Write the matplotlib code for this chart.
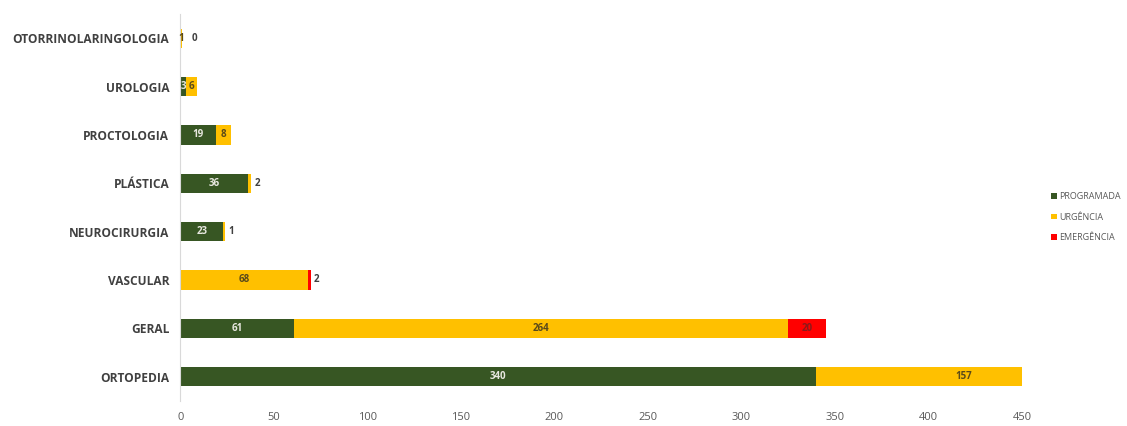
import numpy as np
import matplotlib.pyplot as plt

categorias = ['ORTOPEDIA', 'GERAL', 'VASCULAR', 'NEUROCIRURGIA', 'PLÁSTICA',
              'PROCTOLOGIA', 'UROLOGIA', 'OTORRINOLARINGOLOGIA']
programada = [340, 61, 0, 23, 36, 19, 3, 0]
urgencia = [157, 264, 68, 1, 2, 8, 6, 1]
emergencia = [0, 20, 2, 0, 0, 0, 0, 0]

series = [('PROGRAMADA', programada, '#375623', '#e8e8e0'),
          ('URGÊNCIA', urgencia, '#ffc000', '#5a4a1a'),
          ('EMERGÊNCIA', emergencia, '#ff0000', '#8b1a1a')]

plt.rcParams['font.family'] = ['Open Sans', 'DejaVu Sans']

fig = plt.figure(figsize=(11.27, 4.26), dpi=100)
ax = fig.add_axes([0.16, 0.059, 0.747, 0.908])

y = np.arange(len(categorias))
esquerda = np.zeros(len(categorias))
for nome, vals, cor, cor_txt in series:
    vals = np.array(vals, dtype=float)
    ax.barh(y, vals, left=esquerda, height=0.4, color=cor, label=nome)
    for i, v in enumerate(vals):
        fim = esquerda[i] + v
        if nome == 'EMERGÊNCIA' and v == 0:
            if i == len(categorias) - 1:
                ax.text(fim + 5, y[i], '0', va='center', ha='left', fontsize=7,
                        color='#404040', fontweight='bold')
            continue
        if v == 0:
            continue
        if v <= 2 and esquerda[i] > 0:
            ax.text(fim + 1.5, y[i], f'{int(v)}', va='center', ha='left',
                    fontsize=7, color='#404040', fontweight='bold')
        else:
            ax.text(esquerda[i] + v / 2, y[i], f'{int(v)}', va='center',
                    ha='center', fontsize=7, color=cor_txt, fontweight='bold')
    esquerda += vals

ax.set_xlim(0, 450)
ax.set_ylim(-0.5, 7.5)
ax.set_xticks(np.arange(0, 451, 50))
ax.set_yticks(y)
ax.set_yticklabels(categorias, fontweight='bold', fontsize=8.6, color='#404040')
ax.tick_params(axis='x', labelsize=8, colors='#595959', length=0, pad=8)
ax.tick_params(axis='y', length=0, pad=8)
for s in ['top', 'right', 'bottom']:
    ax.spines[s].set_visible(False)
ax.spines['left'].set_color('#d9d9d9')

ax.legend(loc='center left', bbox_to_anchor=(1.025, 0.475), frameon=False,
          fontsize=6.5, handlelength=0.6, handleheight=0.6, handletextpad=0.3,
          labelcolor='#595959', labelspacing=1.3)

fig.savefig('out.png', dpi=100)
